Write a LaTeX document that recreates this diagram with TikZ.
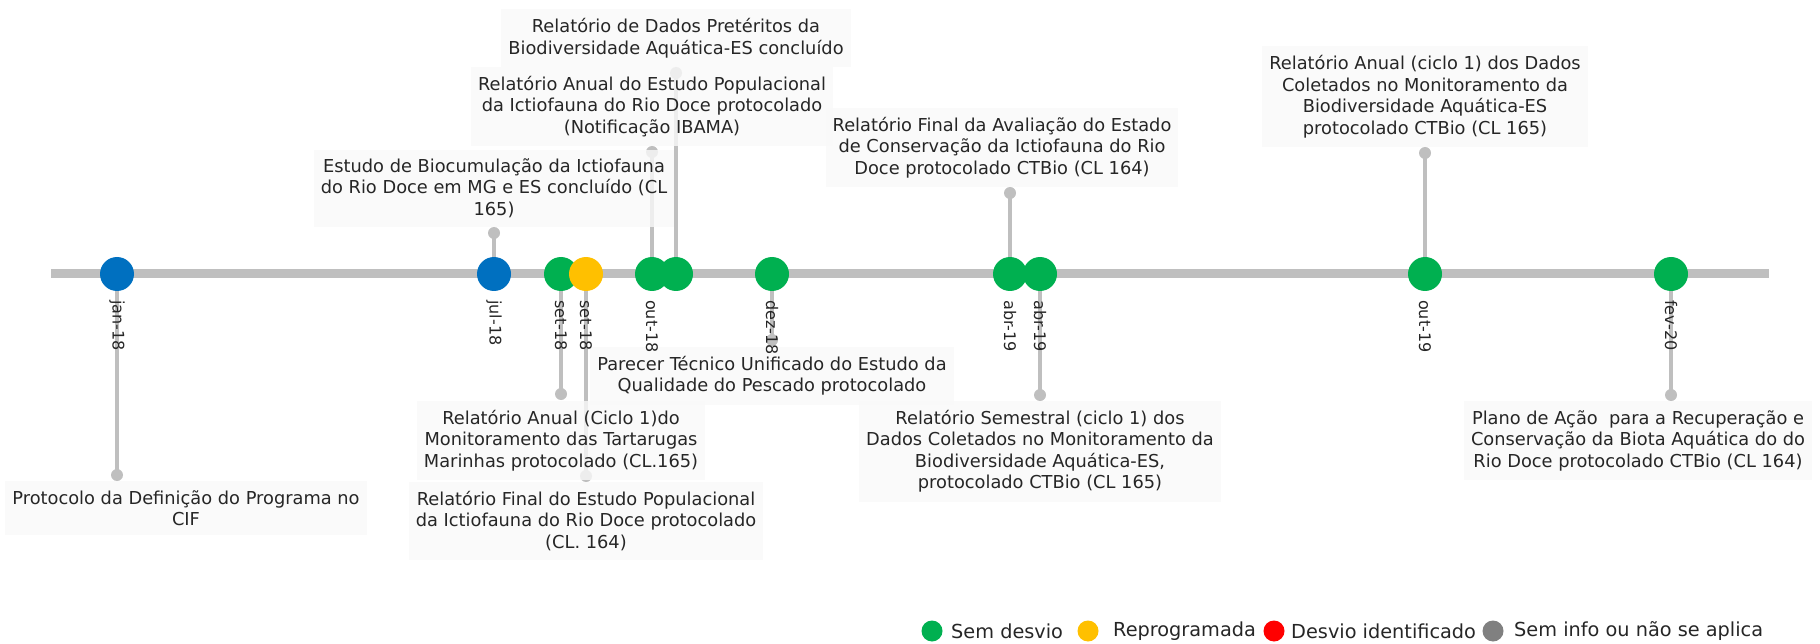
\documentclass[tikz,border=0pt]{standalone}
\usepackage{fontspec}
\setmainfont{DejaVu Sans}
\definecolor{cgreen}{HTML}{00B050}
\definecolor{cblue}{HTML}{0070C0}
\definecolor{cyellow}{HTML}{FFC000}
\definecolor{cred}{HTML}{FF0000}
\definecolor{cgray}{HTML}{808080}
\definecolor{cline}{HTML}{BFBFBF}
\definecolor{boxfill}{HTML}{F9F9F9}
\definecolor{txt}{HTML}{262626}
\begin{document}
\begin{tikzpicture}[x=1pt,y=-1pt,
 axisline/.style={line width=9pt, cline},
 stem/.style={line width=4pt, cline},
 pin/.style={circle, fill=cline, inner sep=0pt, minimum size=12pt},
 marker/.style={circle, inner sep=0pt, minimum size=34pt},
 datelabel/.style={rotate=-90, anchor=west, inner sep=0pt, text=txt, font=\fontsize{16}{18}\selectfont},
 note/.style={fill=boxfill, fill opacity=0.8, text opacity=1, text=txt, align=center, inner xsep=7pt, inner ysep=9pt, font=\fontsize{17.8}{21.5}\selectfont},
 legdot/.style={circle, inner sep=0pt, minimum size=21pt},
 legtext/.style={anchor=west, inner sep=0pt, text=txt, font=\fontsize{19.3}{22}\selectfont}
]
\useasboundingbox (0,0) rectangle (1820,644);

% axis
\coordinate (L) at (51,274);
\coordinate (R) at (1769,274);
\draw[axisline] (L) -- (R);

% event centres and pin ends
\coordinate (c1) at (117,274);  \coordinate (d1) at (117,475);
\coordinate (c2) at (494,274);  \coordinate (d2) at (494,233);
\coordinate (c3) at (561,274);  \coordinate (d3) at (561,394);
\coordinate (c4) at (586,274);  \coordinate (d4) at (586,476);
\coordinate (c5) at (652,274);  \coordinate (d5) at (652,152);
\coordinate (c6) at (676,274);  \coordinate (d6) at (676,73);
\coordinate (c7) at (772,274);  \coordinate (d7) at (772,340);
\coordinate (c8) at (1010,274); \coordinate (d8) at (1010,193);
\coordinate (c9) at (1040,274); \coordinate (d9) at (1040,395);
\coordinate (c10) at (1425,274); \coordinate (d10) at (1425,153);
\coordinate (c11) at (1671,274); \coordinate (d11) at (1671,395);

% stems
\foreach \i in {1,...,11}{
  \draw[stem] (c\i) -- (d\i);
  \node[pin] (p\i) at (d\i) {};
}

% markers
\node[marker, fill=cblue]   (m1) at (c1) {};
\node[marker, fill=cblue]   (m2) at (c2) {};
\node[marker, fill=cgreen]  (m3) at (c3) {};
\node[marker, fill=cyellow] (m4) at (c4) {};
\node[marker, fill=cgreen]  (m5) at (c5) {};
\node[marker, fill=cgreen]  (m6) at (c6) {};
\node[marker, fill=cgreen]  (m7) at (c7) {};
\node[marker, fill=cgreen]  (m8) at (c8) {};
\node[marker, fill=cgreen]  (m9) at (c9) {};
\node[marker, fill=cgreen]  (m10) at (c10) {};
\node[marker, fill=cgreen]  (m11) at (c11) {};

% annotations
\node[note, anchor=north] (a1) at (186,481) {Protocolo da Definição do Programa no\\CIF};
\node[note, anchor=south] (a2) at (494,227) {Estudo de Biocumulação da Ictiofauna\\do Rio Doce em MG e ES concluído (CL\\165)};
\node[note, anchor=north] (a3) at (561,401) {Relatório Anual (Ciclo 1)do\\Monitoramento das Tartarugas\\Marinhas protocolado (CL.165)};
\node[note, anchor=north] (a4) at (586,482) {Relatório Final do Estudo Populacional\\da Ictiofauna do Rio Doce protocolado\\(CL. 164)};
\node[note, anchor=south] (a5) at (652,146) {Relatório Anual do Estudo Populacional\\da Ictiofauna do Rio Doce protocolado\\(Notificação IBAMA)};
\node[note, anchor=south] (a6) at (676,67) {Relatório de Dados Pretéritos da\\Biodiversidade Aquática-ES concluído};
\node[note, anchor=north] (a7) at (772,347) {Parecer Técnico Unificado do Estudo da\\Qualidade do Pescado protocolado};
\node[note, anchor=south] (a8) at (1002,187) {Relatório Final da Avaliação do Estado\\de Conservação da Ictiofauna do Rio\\Doce protocolado CTBio (CL 164)};
\node[note, anchor=north] (a9) at (1040,401) {Relatório Semestral (ciclo 1) dos\\Dados Coletados no Monitoramento da\\Biodiversidade Aquática-ES,\\protocolado CTBio (CL 165)};
\node[note, anchor=south] (a10) at (1425,147) {Relatório Anual (ciclo 1) dos Dados\\Coletados no Monitoramento da\\Biodiversidade Aquática-ES\\protocolado CTBio (CL 165)};
\node[note, anchor=north] (a11) at (1638,401) {Plano de Ação\ \ para a Recuperação e\\Conservação da Biota Aquática do do\\Rio Doce protocolado CTBio (CL 164)};

% date labels (on top)
\node[datelabel] (l1) at (117,300) {jan-18};
\node[datelabel] (l2) at (494,300) {jul-18};
\node[datelabel] (l3) at (561,300) {set-18};
\node[datelabel] (l4) at (586,300) {set-18};
\node[datelabel] (l5) at (652,300) {out-18};
\node[datelabel] (l7) at (772,300) {dez-18};
\node[datelabel] (l8) at (1010,300) {abr-19};
\node[datelabel] (l9) at (1040,300) {abr-19};
\node[datelabel] (l10) at (1425,300) {out-19};
\node[datelabel] (l11) at (1671,300) {fev-20};

% legend
\node[legdot, fill=cgreen]  (g1) at (932,631) {};
\node[legtext] (t1) at (951,631) {Sem desvio};
\node[legdot, fill=cyellow] (g2) at (1088,631) {};
\node[legtext] (t2) at (1113,631) {Reprogramada};
\node[legdot, fill=cred]    (g3) at (1274,631) {};
\node[legtext] (t3) at (1291,631) {Desvio identificado};
\node[legdot, fill=cgray]   (g4) at (1493,631) {};
\node[legtext] (t4) at (1514,631) {Sem info ou não se aplica};
\end{tikzpicture}
\end{document}
